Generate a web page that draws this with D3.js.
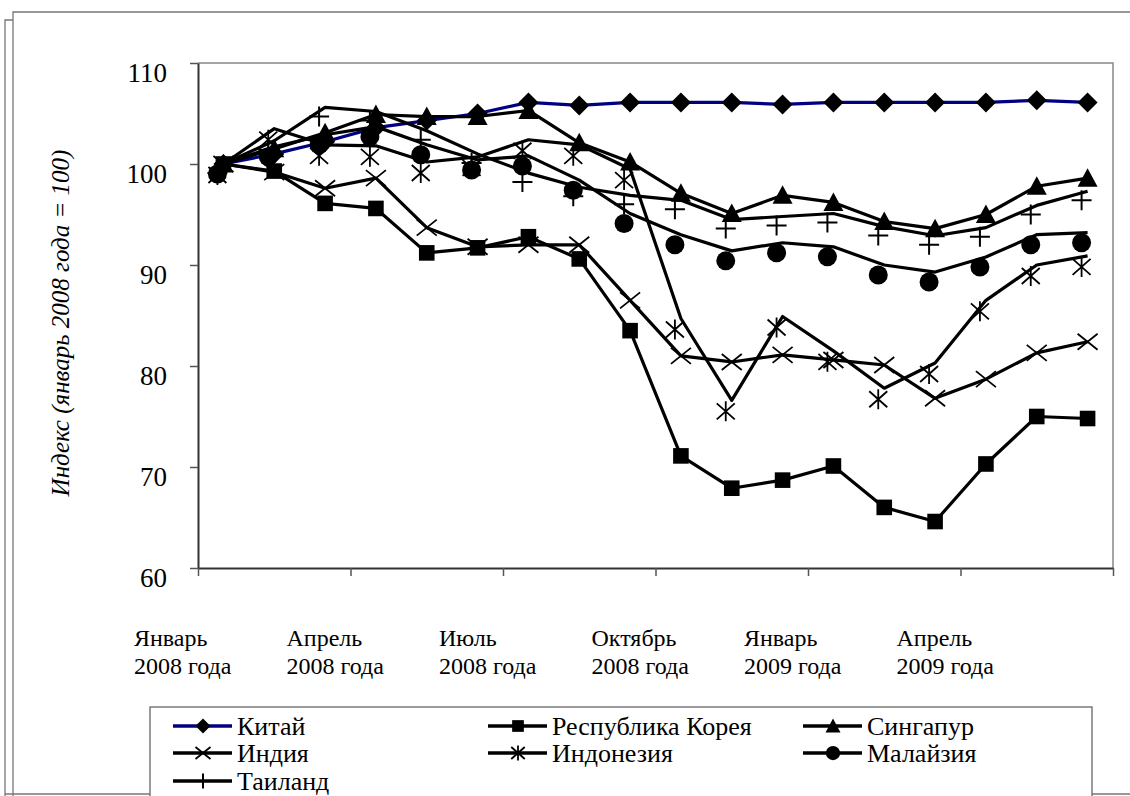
<!DOCTYPE html>
<html>
<head>
<meta charset="utf-8">
<script src="https://cdn.jsdelivr.net/npm/d3@7"></script>
<style>
  body { margin: 0; background: #fff; }
  svg { display: block; }
</style>
</head>
<body>
<svg id="chart" width="1130" height="796"></svg>
<script>
// Monthly categories, January 2008 – June 2009
const months = [
  "01.2008", "02.2008", "03.2008", "04.2008", "05.2008", "06.2008",
  "07.2008", "08.2008", "09.2008", "10.2008", "11.2008", "12.2008",
  "01.2009", "02.2009", "03.2009", "04.2009", "05.2009", "06.2009"
];
// Category labels shown every third month
const tickLabels = [
  ["Январь", "2008 года"], ["Апрель", "2008 года"], ["Июль", "2008 года"],
  ["Октябрь", "2008 года"], ["Январь", "2009 года"], ["Апрель", "2009 года"]
];
const yTicks = [60, 70, 80, 90, 100, 110];
const yTitle = "Индекс (январь 2008 года = 100)";

const seriesNames = ["Китай", "Республика Корея", "Сингапур", "Индия", "Индонезия", "Малайзия", "Таиланд"];

// Index values (January 2008 = 100)
const china     = [100, 101.0, 102.2, 103.6, 104.3, 105.0, 106.1, 105.8, 106.1, 106.1, 106.1, 105.9, 106.1, 106.1, 106.1, 106.1, 106.3, 106.1];
const korea     = [100, 99.3, 96.1, 95.6, 91.2, 91.7, 92.8, 90.6, 83.5, 71.1, 67.9, 68.7, 70.1, 66.0, 64.6, 70.3, 75.0, 74.8];
const singapore = [100, 101.5, 103.1, 104.9, 104.7, 104.7, 105.3, 102.1, 100.2, 97.1, 95.1, 96.9, 96.2, 94.3, 93.6, 95.0, 97.8, 98.6];
const india     = [100, 99.2, 97.6, 98.6, 93.7, 91.8, 92.0, 92.0, 86.5, 81.0, 80.4, 81.1, 80.6, 80.1, 76.8, 78.7, 81.3, 82.4];
const indonesia = [100, 103.5, 101.9, 101.8, 100.2, 100.7, 102.4, 101.9, 99.5, 84.7, 76.6, 84.9, 81.5, 77.8, 80.3, 86.5, 90.0, 90.9];
const malaysia  = [100, 101.7, 102.9, 103.7, 101.9, 100.4, 100.8, 98.4, 95.1, 93.0, 91.4, 92.2, 91.8, 90.0, 89.3, 90.8, 93.0, 93.2];
const thailand  = [100, 102.3, 105.6, 105.2, 103.3, 101.0, 99.1, 97.7, 96.9, 96.4, 94.5, 94.8, 95.1, 93.8, 92.9, 93.7, 95.9, 97.3];

const seriesValues = [china, korea, singapore, india, indonesia, malaysia, thailand];

// Drawing styles per series (marker glyph, colour, marker nudge in the plot)
const seriesStyle = [
  { color: "#000080", marker: "diamond",  nudge: [0, 0] },
  { color: "#000",    marker: "square",   nudge: [0, 0] },
  { color: "#000",    marker: "triangle", nudge: [0, 0] },
  { color: "#000",    marker: "x",        nudge: [0, 0] },
  { color: "#000",    marker: "star",     nudge: [-6, 11] },
  { color: "#000",    marker: "circle",   nudge: [-6, 10] },
  { color: "#000",    marker: "plus",     nudge: [-6, 9] }
];

const FONT = '"Liberation Serif", "Times New Roman", serif';

const svg = d3.select("#chart");
const W = 1130, H = 796;
const plot = { left: 198, right: 1113, top: 63, bottom: 568 };

// ---- outer frame ----
const frame = svg.append("g").attr("fill", "none").attr("stroke", "#777").attr("stroke-width", 1.3);
frame.append("path").attr("d", `M5,${H + 2} V20 H13`);
frame.append("path").attr("d", `M13,${H + 2} V12 H${W + 2}`);
frame.append("path").attr("d", `M5,794 H${W + 2}`);

// ---- scales ----
const x = d3.scaleLinear().domain([0, months.length]).range([plot.left, plot.right]);
const y = d3.scaleLinear().domain([60, 110]).range([plot.bottom, plot.top]);
const cx = i => x(i + 0.5);

// plot-area border (top and right)
svg.append("path")
  .attr("d", `M${plot.left},${plot.top} H${plot.right} V${plot.bottom}`)
  .attr("fill", "none").attr("stroke", "#888").attr("stroke-width", 1.5);

// ---- y axis ----
const yAxis = svg.append("g")
  .attr("transform", `translate(${plot.left},0)`)
  .call(d3.axisLeft(y).tickValues(yTicks).tickSize(8).tickPadding(23).tickSizeOuter(0));
yAxis.attr("font-family", null).attr("font-size", null);
yAxis.select(".domain").attr("stroke", "#333").attr("stroke-width", 2);
yAxis.selectAll(".tick line").attr("stroke", "#555").attr("stroke-width", 1.5);
yAxis.selectAll(".tick text")
  .attr("dy", null).attr("y", 18)
  .style("font-family", FONT)
  .style("font-size", "27px").style("fill", "#000");

// ---- x axis ----
const tickIdx = d3.range(0, months.length + 1, 3);
const xAxis = svg.append("g")
  .attr("transform", `translate(0,${plot.bottom})`)
  .call(d3.axisBottom(x).tickValues(tickIdx).tickSize(8).tickFormat("").tickSizeOuter(0));
xAxis.select(".domain").attr("stroke", "#333").attr("stroke-width", 2);
xAxis.selectAll(".tick line").attr("stroke", "#555").attr("stroke-width", 1.5);

// two-line month labels, left-aligned under every third category
const lab = svg.append("g").attr("class", "xlabels");
lab.selectAll("text")
  .data(tickLabels)
  .join("text")
  .attr("x", (d, i) => x(tickIdx[i]) - 64)
  .attr("y", 646)
  .style("font-family", FONT)
  .style("font-size", "24px")
  .style("fill", "#000")
  .each(function (d) {
    const t = d3.select(this);
    t.append("tspan").attr("x", t.attr("x")).attr("dy", 0).text(d[0]);
    t.append("tspan").attr("x", t.attr("x")).attr("dy", 28).text(d[1]);
  });

// y-axis title
svg.append("text")
  .attr("transform", `translate(69,323) rotate(-90)`)
  .attr("text-anchor", "middle")
  .style("font-family", FONT)
  .style("font-size", "25px").style("font-style", "italic").style("fill", "#000")
  .text(yTitle);

// ---- marker glyphs ----
function drawMarker(g, type, s, color) {
  // s = nominal marker size in px
  const h = s / 2;
  if (type === "diamond") {
    g.append("path").attr("d", `M0,${-h} L${h},0 L0,${h} L${-h},0 Z`).attr("fill", "#000");
  } else if (type === "square") {
    g.append("rect").attr("x", -h * 0.78).attr("y", -h * 0.78).attr("width", h * 1.56).attr("height", h * 1.56).attr("fill", color);
  } else if (type === "triangle") {
    g.append("path").attr("d", `M0,${-h} L${h},${h * 0.85} L${-h},${h * 0.85} Z`).attr("fill", color);
  } else if (type === "circle") {
    g.append("circle").attr("r", h * 0.95).attr("fill", color);
  } else if (type === "x") {
    g.append("path").attr("d", `M${-h},${-h * 0.8} L${h},${h * 0.8} M${-h},${h * 0.8} L${h},${-h * 0.8}`)
      .attr("stroke", color).attr("stroke-width", 1.8).attr("fill", "none");
  } else if (type === "star") {
    g.append("path").attr("d", `M${-h * 0.9},${-h * 0.8} L${h * 0.9},${h * 0.8} M${-h * 0.9},${h * 0.8} L${h * 0.9},${-h * 0.8} M0,${-h} V${h}`)
      .attr("stroke", color).attr("stroke-width", 1.8).attr("fill", "none");
  } else if (type === "plus") {
    g.append("path").attr("d", `M${-h},0 H${h} M0,${-h} V${h}`)
      .attr("stroke", color).attr("stroke-width", 2).attr("fill", "none");
  }
}

// ---- series ----
const line = d3.line().x((d, i) => cx(i)).y(d => y(d));
const seriesG = svg.append("g").attr("class", "series");
seriesValues.forEach((vals, si) => {
  const st = seriesStyle[si];
  const g = seriesG.append("g");
  g.append("path")
    .attr("d", line(vals))
    .attr("fill", "none")
    .attr("stroke", st.color)
    .attr("stroke-width", 3.2)
    .attr("stroke-linejoin", "round");
  g.selectAll("g.m")
    .data(vals)
    .join("g")
    .attr("class", "m")
    .attr("transform", (d, i) => `translate(${cx(i) + st.nudge[0]},${y(d) + st.nudge[1]})`)
    .each(function () { drawMarker(d3.select(this), st.marker, 20, st.color); });
});

// ---- legend ----
const legend = svg.append("g").attr("class", "legend");
legend.append("rect")
  .attr("x", 150).attr("y", 707).attr("width", 942).attr("height", 100)
  .attr("fill", "#fff").attr("stroke", "#666").attr("stroke-width", 1.3);
const colX = [173, 488, 803];
const rowY = [726, 753, 781];
seriesNames.forEach((name, i) => {
  const st = seriesStyle[i];
  const lx = colX[i % 3], ly = rowY[Math.floor(i / 3)];
  const item = legend.append("g").attr("transform", `translate(${lx},${ly})`);
  item.append("line").attr("x1", 0).attr("x2", 59).attr("y1", 0).attr("y2", 0)
    .attr("stroke", st.color).attr("stroke-width", 3.5);
  const m = item.append("g").attr("transform", "translate(30,0)");
  drawMarker(m, st.marker, 15, st.color);
  item.append("text").attr("x", 64).attr("y", 8.5)
    .style("font-family", FONT)
    .style("font-size", "26px").style("fill", "#000").text(name);
});
</script>
</body>
</html>
